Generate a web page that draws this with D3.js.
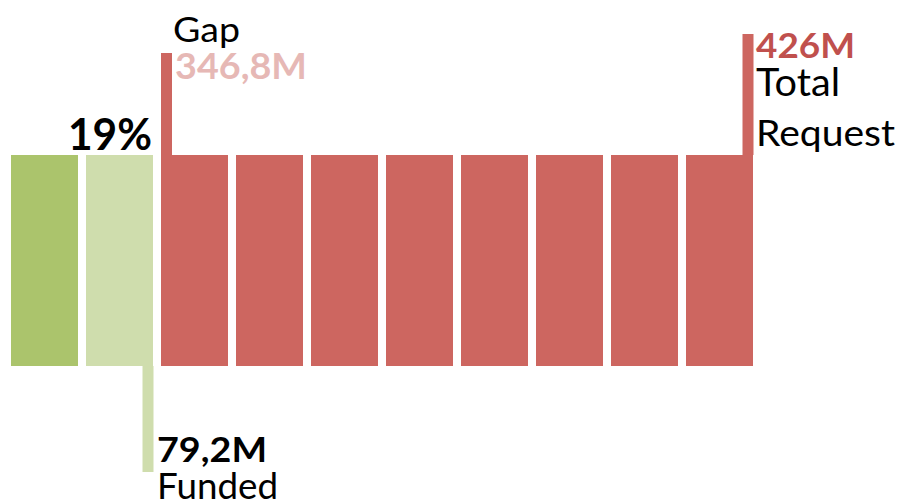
<!DOCTYPE html>
<html>
<head>
<meta charset="utf-8">
<script src="https://cdn.jsdelivr.net/npm/d3@7"></script>
<style>
  html, body { margin: 0; padding: 0; background: #ffffff; }
  svg { display: block; }
  text { font-family: Lato, "Noto Sans", sans-serif; }
</style>
</head>
<body>
<svg id="chart" width="901" height="499"></svg>
<script>
// ---- data ----
const totalRequest = 426;      // M
const fundedAmount = 79.2;     // M
const gapAmount = 346.8;       // M
const fundedPct = 19;          // % label
const blocks = d3.range(10);   // each block = 10% of the total request
const labelTexts = {
  gap: "Gap", gapValue: "346,8M",
  total: "426M", totalA: "Total", totalB: "Request",
  funded: "79,2M", fundedLbl: "Funded",
  pct: "19%"
};

// ---- colours ----
const cFull = "#abc46c", cPartial = "#cfddad", cGap = "#cd6660";
const cGapText = "#e6b8b5", cTotalText = "#c0504d";

const svg = d3.select("#chart");

const x = d3.scaleBand().domain(blocks).range([11, 753]).paddingInner(8 / 75).paddingOuter(0);
const y = d3.scaleLinear().domain([0, 1]).range([366, 155]);

const fundedShare = fundedAmount / totalRequest * 10; // in blocks
function blockColor(i) {
  if (i + 1 <= fundedShare) return cFull;
  if (i < fundedShare) return cPartial;
  return cGap;
}

svg.selectAll("rect.block").data(blocks).join("rect")
  .attr("class", "block")
  .attr("x", d => x(d)).attr("y", y(1))
  .attr("width", x.bandwidth()).attr("height", y(0) - y(1))
  .attr("fill", blockColor);

// leader bars
const firstGap = blocks.find(i => blockColor(i) === cGap);
const lastPartial = firstGap - 1;
const lw = 11;
svg.append("rect").attr("x", x(firstGap)).attr("y", 53)
  .attr("width", lw).attr("height", y(1) - 53).attr("fill", cGap);
svg.append("rect").attr("x", x(blocks.length - 1) + x.bandwidth() - lw + 0.5).attr("y", 34)
  .attr("width", lw).attr("height", y(1) - 34).attr("fill", cGap);
svg.append("rect").attr("x", x(lastPartial) + x.bandwidth() - lw + 0.5).attr("y", y(0))
  .attr("width", lw).attr("height", 472 - y(0)).attr("fill", cPartial);

// labels: size from cap height, fitted to the reference width
const capRatio = 0.7165;
function label(txt, px, py, w, cap, weight, color) {
  return svg.append("text").attr("x", px).attr("y", py)
    .attr("font-size", cap / capRatio).attr("font-weight", weight).attr("fill", color)
    .attr("textLength", w).attr("lengthAdjust", "spacingAndGlyphs")
    .text(txt);
}
label(labelTexts.gap, 173, 42, 67, 25, 400, "#000");
label(labelTexts.gapValue, 175, 79, 132, 26, 700, cGapText);
label(labelTexts.pct, 68, 150, 84, 32, 700, "#000");
label(labelTexts.total, 756, 58, 99, 24, 700, cTotalText);
label(labelTexts.totalA, 756, 96, 84, 27, 400, "#000");
label(labelTexts.totalB, 756, 146, 139, 26, 400, "#000");
label(labelTexts.funded, 157, 462, 110, 25, 700, "#000");
label(labelTexts.fundedLbl, 157, 499, 121, 26, 400, "#000");
</script>
</body>
</html>
